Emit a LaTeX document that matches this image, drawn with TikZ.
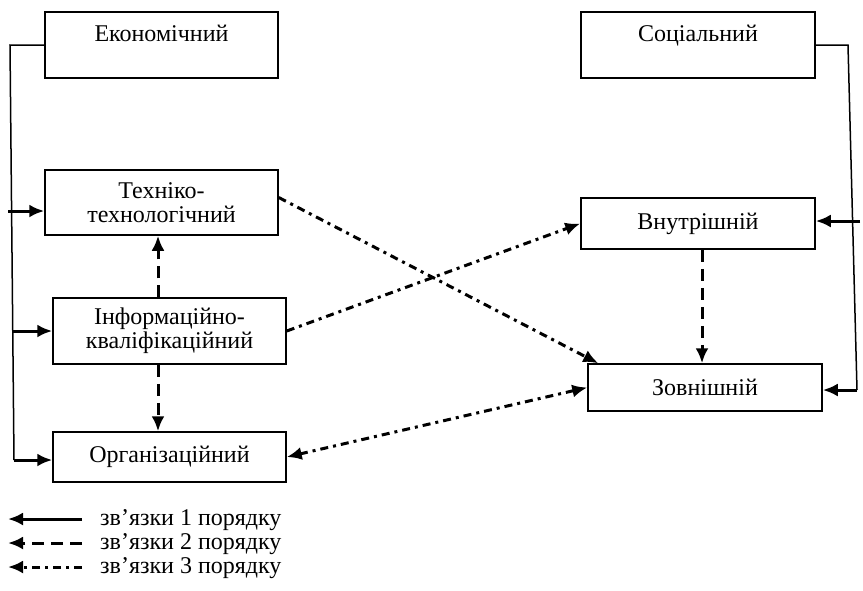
\documentclass[tikz,border=0pt]{standalone}
\usepackage{fontspec}
\setmainfont{Liberation Serif}
\usetikzlibrary{arrows.meta}

\begin{document}
\begin{tikzpicture}[x=1pt, y=-1pt,
        font=\fontsize{24}{24}\selectfont,
        box/.style={draw, line width=1.5pt, inner sep=0pt, align=center},
        branch/.style={line width=1.5pt},
        tip/.tip={Latex[length=15pt, width=13pt]},
        first/.style={line width=3pt, -tip},
        second/.style={first, dash pattern=on 12pt off 7pt},
        third/.style={first, dash pattern=on 8pt off 5pt on 3pt off 5pt},
        both/.style={third, tip-tip}]
        \useasboundingbox (0, 0) rectangle (863, 590);

        % left group
        \node[box, minimum width=233pt, minimum height=66pt] (econ) at (161.5, 45) {Економічний\\~};
        \node[box, minimum width=233pt, minimum height=65pt] (tech) at (161.5, 202.5) {Техніко-\\технологічний};
        \node[box, minimum width=233pt, minimum height=66pt] (info) at (169.5, 331) {Інформаційно-\\кваліфікаційний};
        \node[box, minimum width=233pt, minimum height=50pt] (org) at (169.5, 457) {Організаційний};

        % right group
        \node[box, minimum width=234pt, minimum height=66pt] (soc) at (698, 45) {Соціальний\\~};
        \node[box, minimum width=234pt, minimum height=51pt] (inner) at (698, 223.5) {Внутрішній};
        \node[box, minimum width=234pt, minimum height=47pt] (outer) at (705, 387.5) {Зовнішній};

        \coordinate (econ turn) at (10, 45);
        \coordinate (econ end) at (14, 460);
        \coordinate (to tech) at (8, 211);
        \coordinate (to info) at (12, 331);

        \coordinate (soc turn) at (848, 45);
        \coordinate (soc end) at (857, 390);
        \coordinate (to inner) at (860, 221);

        \draw[branch] (econ.west) -- (econ turn) -- (econ end);
        \draw[first] (to tech) -- (to tech -| tech.west);
        \draw[first] (to info) -- (info.west);
        \draw[first] (econ end) -- (econ end -| org.west);

        \draw[branch] (soc.east) -- (soc turn) -- (soc end);
        \draw[first] (to inner) -- (to inner -| inner.east);
        \draw[first] (soc end) -- (soc end -| outer.east);

        \draw[second] ([xshift=-11.5pt]info.north) -- ([xshift=-11.5pt]info.north |- tech.south);
        \draw[second] ([xshift=-11.5pt]info.south) -- ([xshift=-11.5pt]info.south |- org.north);
        \draw[second] ([xshift=4pt]inner.south) -- ([xshift=4pt]inner.south |- outer.north);

        \draw[third] ([yshift=5pt]tech.east) -- ([xshift=11pt]outer.north west);
        \draw[third] (info.east) -- (inner.west);
        \draw[both] (org.east) -- (outer.west);

        % legend
        \foreach \kind/\num/\y in {first/1/519, second/2/543, third/3/567} {
            \node[anchor=base west, inner sep=0pt] (key\num) at (100, \y + 6) {зв’язки \num\ порядку};
            \coordinate (key\num start) at (82, \y);
            \coordinate (key\num end) at (8, \y);
            \draw[\kind] (key\num start) -- (key\num end);
        }
    \end{tikzpicture}
\end{document}
